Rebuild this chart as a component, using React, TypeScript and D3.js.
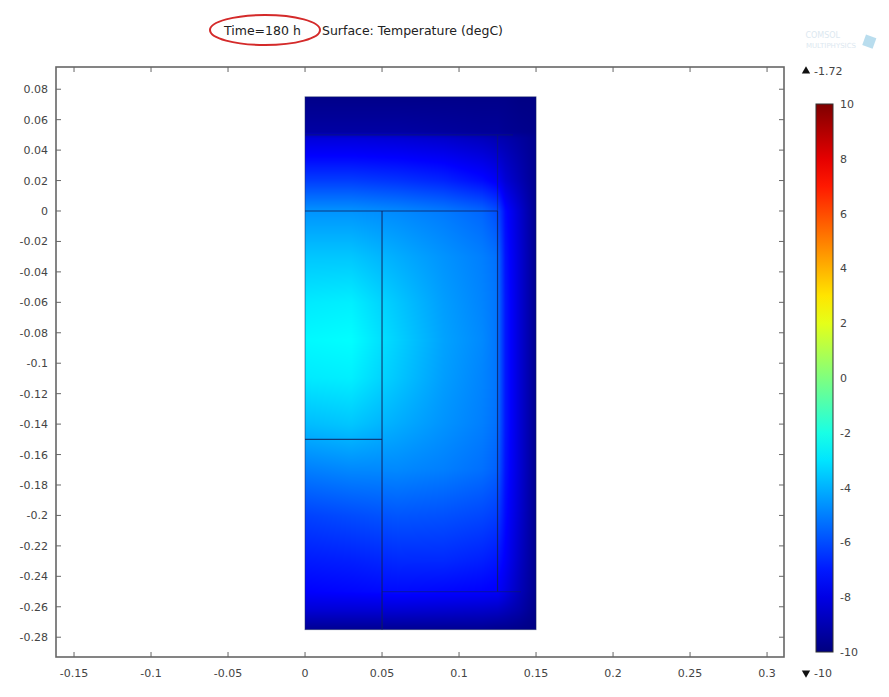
// Temperature surface plot (Time=180 h) drawn with d3 into an svg

import React, { useEffect, useRef } from "react"
import * as d3 from "d3"

// axis ticks
const xTicks = [-0.15, -0.1, -0.05, 0, 0.05, 0.1, 0.15, 0.2, 0.25, 0.3]
const yTicks = [0.08, 0.06, 0.04, 0.02, 0, -0.02, -0.04, -0.06, -0.08, -0.1, -0.12, -0.14, -0.16, -0.18, -0.2, -0.22, -0.24, -0.26, -0.28]
const cbTicks = [10, 8, 6, 4, 2, 0, -2, -4, -6, -8, -10]

// colormap stops (rainbow), -10 .. 10
const rainbow = ["#00007f", "#0000ff", "#007fff", "#00ffff", "#7fff7f", "#ffff00", "#ff7f00", "#ff0000", "#7f0000"]

// nodes of the temperature field (m)
const nodeX = [0, 0.03, 0.06, 0.09, 0.115, 0.125, 0.13, 0.14, 0.15]
const nodeY = [0.075, 0.052, 0.048, 0.035, 0.02, 0, -0.03, -0.06, -0.085, -0.11, -0.14, -0.17, -0.2, -0.23, -0.25, -0.262, -0.275]

// temperature (degC), one row per nodeY
const temps = [
  [-9.8, -9.8, -9.8, -9.8, -9.8, -9.8, -9.8, -9.9, -9.9],
  [-9.3, -9.3, -9.3, -9.4, -9.5, -9.5, -9.6, -9.7, -9.8],
  [-8.2, -8.2, -8.3, -8.5, -8.8, -9.0, -9.1, -9.4, -9.7],
  [-7.4, -7.4, -7.5, -7.7, -8.1, -8.4, -8.7, -9.2, -9.7],
  [-6.3, -6.3, -6.5, -6.8, -7.3, -7.7, -8.3, -9.0, -9.7],
  [-4.6, -4.6, -4.8, -5.1, -5.5, -6.0, -7.3, -8.5, -9.7],
  [-3.6, -3.6, -4.1, -4.6, -5.0, -5.3, -7.1, -8.4, -9.7],
  [-2.9, -2.8, -3.6, -4.4, -4.9, -5.2, -7.0, -8.4, -9.7],
  [-2.6, -2.5, -3.4, -4.3, -4.8, -5.2, -7.0, -8.4, -9.7],
  [-2.9, -2.8, -3.6, -4.4, -4.9, -5.2, -7.0, -8.4, -9.7],
  [-3.8, -3.6, -4.1, -4.6, -5.0, -5.3, -7.0, -8.4, -9.7],
  [-5.0, -4.8, -4.8, -5.0, -5.3, -5.6, -7.1, -8.4, -9.7],
  [-6.2, -6.0, -5.8, -5.9, -6.1, -6.3, -7.3, -8.5, -9.7],
  [-7.0, -6.9, -6.7, -6.7, -6.9, -7.1, -7.6, -8.7, -9.7],
  [-7.5, -7.4, -7.3, -7.4, -7.5, -7.6, -8.0, -8.9, -9.7],
  [-8.3, -8.3, -8.3, -8.4, -8.5, -8.6, -8.8, -9.2, -9.8],
  [-9.6, -9.6, -9.6, -9.6, -9.6, -9.7, -9.7, -9.8, -9.9],
]

// geometry: outer domain and internal boundaries [x1, y1, x2, y2, strong]
const domainBox = [0, 0.075, 0.15, -0.275]
const boundaries = [
  [0, 0, 0.125, 0, 1],
  [0.05, 0, 0.05, -0.275, 1],
  [0, -0.15, 0.05, -0.15, 1],
  [0.125, 0, 0.125, -0.25, 1],
  [0.125, 0.05, 0.125, 0, 0],
  [0, 0.05, 0.135, 0.05, 0],
  [0.05, -0.25, 0.14, -0.25, 0],
]

const maxLabel = "-1.72"
const minLabel = "-10"

const fmt = (d) => String(+d.toFixed(2))

function App() {
  const ref = useRef()

  useEffect(() => {
    const width = 889
    const height = 697
    const svg = d3.select(ref.current)
    svg.selectAll("*").remove()
    svg.attr("width", width).attr("height", height)

    const font = "DejaVu Sans, sans-serif"
    const frame = { l: 56, r: 784, t: 67, b: 657 }

    const x = d3.scaleLinear().domain([-0.1617, 0.311]).range([frame.l, frame.r])
    const y = d3.scaleLinear().domain([0.0946, -0.293]).range([frame.t, frame.b])
    const color = d3.scaleLinear()
      .domain(rainbow.map((_, i) => -10 + (20 * i) / (rainbow.length - 1)))
      .range(rainbow)
      .clamp(true)

    const defs = svg.append("defs")

    // title
    const title = svg.append("text")
      .attr("x", 224).attr("y", 35)
      .style("font-family", font).style("font-size", "12.5px").attr("fill", "#222")
    title.append("tspan").text("Time=180 h")
    title.append("tspan").attr("x", 322).text("Surface: Temperature (degC)")
    svg.append("ellipse")
      .attr("cx", 265).attr("cy", 30).attr("rx", 55).attr("ry", 15)
      .attr("fill", "none").attr("stroke", "#d42a2a").attr("stroke-width", 2)

    // faint logo
    svg.append("text").attr("x", 840).attr("y", 38).attr("text-anchor", "end")
      .style("font-family", font).style("font-size", "8px").attr("fill", "#dce8f0").text("COMSOL")
    svg.append("text").attr("x", 856).attr("y", 48).attr("text-anchor", "end")
      .style("font-family", font).style("font-size", "7px").attr("fill", "#dce8f0").text("MULTIPHYSICS")
    svg.append("rect").attr("x", 864).attr("y", 36).attr("width", 11).attr("height", 11)
      .attr("transform", "rotate(20 869 41)").attr("fill", "#a8d4ea").attr("opacity", 0.8)

    // temperature surface: nodal values shaded bilinearly on a canvas
    const px0 = x(domainBox[0]), px1 = x(domainBox[2])
    const py0 = y(domainBox[1]), py1 = y(domainBox[3])
    const W = Math.round(px1 - px0), H = Math.round(py1 - py0)
    const canvas = document.createElement("canvas")
    canvas.width = W
    canvas.height = H
    const ctx = canvas.getContext("2d")
    const img = ctx.createImageData(W, H)
    const ys = nodeY.map(v => -v) // ascending for bisect
    for (let r = 0; r < H; r++) {
      const vy = y.invert(py0 + ((r + 0.5) * (py1 - py0)) / H)
      let i = Math.min(Math.max(d3.bisectRight(ys, -vy) - 1, 0), nodeY.length - 2)
      const fy = Math.min(Math.max((-vy - ys[i]) / (ys[i + 1] - ys[i]), 0), 1)
      for (let c = 0; c < W; c++) {
        const vx = x.invert(px0 + ((c + 0.5) * (px1 - px0)) / W)
        let j = Math.min(Math.max(d3.bisectRight(nodeX, vx) - 1, 0), nodeX.length - 2)
        const fx = Math.min(Math.max((vx - nodeX[j]) / (nodeX[j + 1] - nodeX[j]), 0), 1)
        const t =
          temps[i][j] * (1 - fx) * (1 - fy) + temps[i][j + 1] * fx * (1 - fy) +
          temps[i + 1][j] * (1 - fx) * fy + temps[i + 1][j + 1] * fx * fy
        const col = d3.rgb(color(t))
        const k = (r * W + c) * 4
        img.data[k] = col.r
        img.data[k + 1] = col.g
        img.data[k + 2] = col.b
        img.data[k + 3] = 255
      }
    }
    ctx.putImageData(img, 0, 0)
    svg.append("image")
      .attr("x", px0).attr("y", py0).attr("width", px1 - px0).attr("height", py1 - py0)
      .attr("preserveAspectRatio", "none")
      .attr("href", canvas.toDataURL())

    // boundaries
    svg.append("g").selectAll("line").data(boundaries).enter().append("line")
      .attr("x1", d => x(d[0])).attr("y1", d => y(d[1]))
      .attr("x2", d => x(d[2])).attr("y2", d => y(d[3]))
      .attr("stroke", "#10205a")
      .attr("stroke-opacity", d => (d[4] ? 0.8 : 0.45))
      .attr("stroke-width", 1.2)
    svg.append("rect")
      .attr("x", px0).attr("y", py0).attr("width", px1 - px0).attr("height", py1 - py0)
      .attr("fill", "none").attr("stroke", "#10205a").attr("stroke-opacity", 0.5)

    // frame + inward ticks
    svg.append("rect")
      .attr("x", frame.l).attr("y", frame.t)
      .attr("width", frame.r - frame.l).attr("height", frame.b - frame.t)
      .attr("fill", "none").attr("stroke", "#666").attr("stroke-width", 1.6)
    const tk = 5
    const axes = svg.append("g").attr("stroke", "#666")
    xTicks.forEach(v => {
      axes.append("line").attr("x1", x(v)).attr("x2", x(v)).attr("y1", frame.b).attr("y2", frame.b - tk)
      axes.append("line").attr("x1", x(v)).attr("x2", x(v)).attr("y1", frame.t).attr("y2", frame.t + tk)
    })
    yTicks.forEach(v => {
      axes.append("line").attr("y1", y(v)).attr("y2", y(v)).attr("x1", frame.l).attr("x2", frame.l + tk)
      axes.append("line").attr("y1", y(v)).attr("y2", y(v)).attr("x1", frame.r).attr("x2", frame.r - tk)
    })
    svg.append("g").selectAll("text").data(xTicks).enter().append("text")
      .attr("x", d => x(d)).attr("y", 677).attr("text-anchor", "middle")
      .style("font-family", font).style("font-size", "11px").attr("fill", "#444")
      .text(fmt)
    svg.append("g").selectAll("text").data(yTicks).enter().append("text")
      .attr("x", 48).attr("y", d => y(d) + 4).attr("text-anchor", "end")
      .style("font-family", font).style("font-size", "11px").attr("fill", "#444")
      .text(fmt)

    // colour legend
    const cb = d3.scaleLinear().domain([10, -10]).range([104, 652])
    const grad = defs.append("linearGradient").attr("id", "cbgrad")
      .attr("x1", 0).attr("y1", 1).attr("x2", 0).attr("y2", 0)
    d3.range(0, 1.0001, 0.05).forEach(p => {
      grad.append("stop").attr("offset", p).attr("stop-color", color(-10 + 20 * p))
    })
    svg.append("rect").attr("x", 816).attr("y", cb(10))
      .attr("width", 17).attr("height", cb(-10) - cb(10))
      .attr("fill", "url(#cbgrad)").attr("stroke", "#333").attr("stroke-width", 1)
    svg.append("g").selectAll("text").data(cbTicks).enter().append("text")
      .attr("x", 840).attr("y", d => cb(d) + 4)
      .style("font-family", font).style("font-size", "11px").attr("fill", "#444")
      .text(d => String(d))
    svg.append("path").attr("d", d3.symbol(d3.symbolTriangle, 30)()).attr("transform", "translate(806,71)").attr("fill", "#111")
    svg.append("text").attr("x", 814).attr("y", 75)
      .style("font-family", font).style("font-size", "11px").attr("fill", "#444").text(maxLabel)
    svg.append("path").attr("d", d3.symbol(d3.symbolTriangle, 30)()).attr("transform", "translate(806,673) rotate(180)").attr("fill", "#111")
    svg.append("text").attr("x", 814).attr("y", 677)
      .style("font-family", font).style("font-size", "11px").attr("fill", "#444").text(minLabel)
  }, [])

  return <svg ref={ref} style={{ position: "absolute", left: 0, top: 0, background: "#fff" }}></svg>
}

export default App
